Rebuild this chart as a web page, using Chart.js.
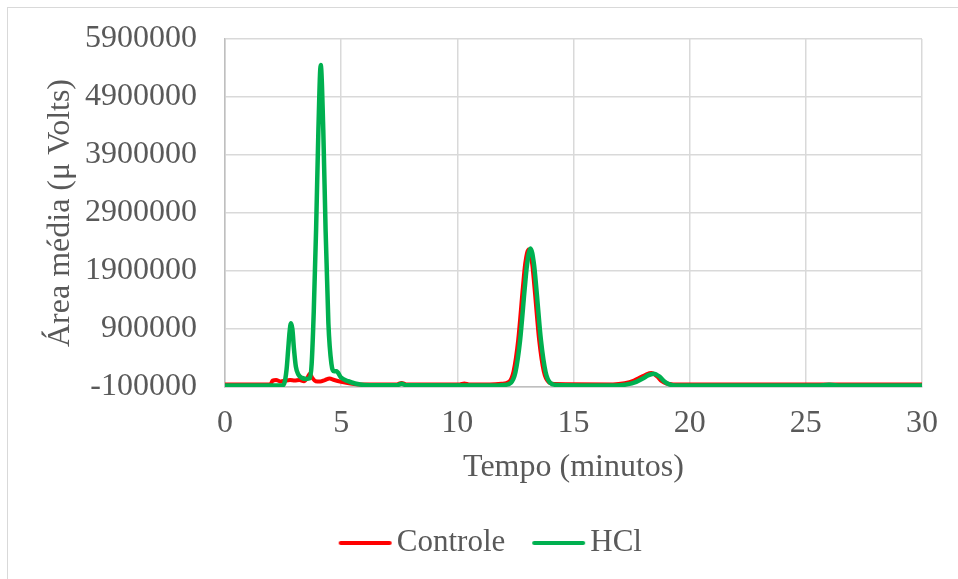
<!DOCTYPE html>
<html>
<head>
<meta charset="utf-8">
<script src="https://cdn.jsdelivr.net/npm/chart.js@4/dist/chart.umd.min.js"></script>
<style>
  body { margin: 0; background: #fff; }
  #wrap { position: relative; width: 958px; height: 579px; }
  #frame { position: absolute; left: 7px; top: 7px; width: 960px; height: 580px;
           border-left: 1px solid #d9d9d9; border-top: 1px solid #d9d9d9; }
  canvas { position: absolute; left: 0; top: 0; }
</style>
</head>
<body>
<div id="wrap">
  <div id="frame"></div>
  <canvas id="chart" width="958" height="579"></canvas>
</div>
<script>
// Controle series (tempo in minutes, area in uV)
const controleTempo = [0, 1.95, 2.05, 2.2, 2.4, 2.6, 2.8, 3.0, 3.2, 3.4,
  3.55, 3.65, 3.75, 3.9, 4.1, 4.3, 4.5, 4.7, 5.0, 5.4,
  5.8, 7.4, 7.6, 7.8, 10.1, 10.3, 10.5, 11.4, 11.9, 12.22,
  12.42, 12.62, 12.82, 12.92, 13.07, 13.22, 13.32, 13.52, 13.72, 13.92,
  14.2, 16.7, 17.2, 17.6, 17.9, 18.1, 18.35, 18.6, 18.8, 19.0,
  19.3, 30];
const controleArea = [-55000, -55000, 10000, 20000, -5000, 10000, 20000, 10000, 20000, 0,
  60000, 130000, 60000, 0, -5000, 20000, 45000, 20000, -10000, -40000,
  -55000, -55000, -30000, -55000, -55000, -40000, -55000, -55000, -45000, -12000,
  170000, 715000, 1615000, 2025000, 2270000, 2025000, 1615000, 715000, 170000, -12000,
  -50000, -55000, -35000, 10000, 70000, 110000, 140000, 80000, 0, -40000,
  -55000, -55000];

// HCl series
const hclTempo = [0, 2.45, 2.55, 2.65, 2.72, 2.78, 2.84, 2.9, 2.97, 3.05,
  3.15, 3.3, 3.5, 3.65, 3.73, 3.82, 3.92, 4.02, 4.12, 4.23,
  4.33, 4.45, 4.58, 4.7, 4.8, 5.0, 5.3, 5.6, 6.0, 7.4,
  7.6, 7.8, 11.5, 12.0, 12.3, 12.5, 12.7, 12.9, 13.0, 13.15,
  13.3, 13.4, 13.6, 13.8, 14.0, 14.3, 16.8, 17.3, 17.7, 18.0,
  18.2, 18.45, 18.7, 18.9, 19.1, 19.4, 25.5, 26.0, 26.5, 30];
const hclArea = [-75000, -75000, -40000, 200000, 550000, 850000, 1000000, 900000, 550000, 250000,
  120000, 60000, 40000, 50000, 300000, 1200000, 2600000, 4330000, 5450000, 4330000,
  2600000, 1000000, 300000, 170000, 170000, 60000, 0, -40000, -65000, -70000,
  -45000, -70000, -75000, -65000, -27000, 155000, 700000, 1600000, 2010000, 2290000,
  2010000, 1600000, 700000, 155000, -27000, -65000, -75000, -55000, -10000, 50000,
  100000, 130000, 80000, 0, -50000, -75000, -75000, -60000, -75000, -75000];

const yMin = -100000;
const yMax = 5900000;
const yStep = 1000000;
const xMin = 0;
const xMax = 30;
const xStep = 5;

const serif = "'Liberation Serif', 'Times New Roman', serif";
const textColor = '#595959';

function toPoints(xs, ys) {
  return xs.map((x, i) => ({ x: x, y: ys[i] }));
}

// legend marker: a short line, shifted so it sits close to the label text
function legendLine(color) {
  const c = document.createElement('canvas');
  c.width = 88;
  c.height = 6;
  const g = c.getContext('2d');
  g.strokeStyle = color;
  g.lineWidth = 4;
  g.lineCap = 'round';
  g.beginPath();
  g.moveTo(36, 3);
  g.lineTo(85, 3);
  g.stroke();
  return c;
}

// HCl first so it is drawn on top; legend reversed to show Controle first
new Chart(document.getElementById('chart').getContext('2d'), {
  type: 'line',
  data: {
    datasets: [
      {
        label: 'HCl',
        data: toPoints(hclTempo, hclArea),
        borderColor: '#00B050',
        backgroundColor: '#00B050',
        borderWidth: 4.5,
        pointRadius: 0,
        pointStyle: legendLine('#00B050'),
        cubicInterpolationMode: 'monotone',
        borderJoinStyle: 'round',
        borderCapStyle: 'round',
        yAxisID: 'y'
      },
      {
        label: 'Controle',
        data: toPoints(controleTempo, controleArea),
        borderColor: '#FF0000',
        backgroundColor: '#FF0000',
        borderWidth: 4,
        pointRadius: 0,
        pointStyle: legendLine('#FF0000'),
        cubicInterpolationMode: 'monotone',
        borderJoinStyle: 'round',
        borderCapStyle: 'round',
        yAxisID: 'y'
      }
    ]
  },
  options: {
    responsive: false,
    animation: false,
    layout: { padding: { left: 0, right: 0, top: 39, bottom: 10.5 } },
    plugins: {
      tooltip: { enabled: false },
      legend: {
        position: 'bottom',
        reverse: true,
        labels: {
          usePointStyle: true,
          pointStyleWidth: 65.2,
          padding: 4.3,
          color: textColor,
          font: { family: serif, size: 31 }
        }
      }
    },
    scales: {
      x: {
        type: 'linear',
        min: xMin,
        max: xMax,
        grid: { color: '#d9d9d9', lineWidth: 1.5, drawTicks: false },
        border: { color: '#bfbfbf', width: 1.5 },
        ticks: {
          stepSize: xStep,
          padding: 17,
          color: textColor,
          font: { family: serif, size: 32 }
        },
        title: {
          display: true,
          text: 'Tempo (minutos)',
          color: textColor,
          font: { family: serif, size: 32 },
          padding: { top: 0, bottom: 36 }
        },
        afterFit: s => { s.height = 136.2; }
      },
      y: {
        min: yMin,
        max: yMax,
        // invisible tick marks give the label gap without padding the top
        grid: { color: '#d9d9d9', lineWidth: 1.5, drawTicks: true, tickLength: 25, tickColor: 'rgba(0,0,0,0)' },
        border: { color: '#bfbfbf', width: 1.5 },
        ticks: {
          stepSize: yStep,
          padding: 3,
          color: textColor,
          font: { family: serif, size: 32 },
          callback: v => String(v)
        },
        title: {
          display: true,
          text: 'Área média (μ Volts)',
          color: textColor,
          font: { family: serif, size: 32 },
          padding: { top: 41, bottom: 0 }
        },
        afterFit: s => { s.width = 225; }
      },
      // empty spacer on the right so the plot ends at x = 30 like the original
      spacer: {
        type: 'linear',
        position: 'right',
        grid: { display: false },
        border: { display: false },
        ticks: { display: false },
        afterFit: s => { s.width = 36; }
      }
    }
  }
});
</script>
</body>
</html>
